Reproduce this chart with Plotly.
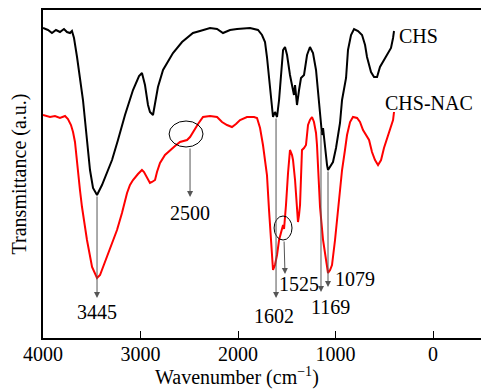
import plotly.graph_objects as go

# ---- data (wavenumber cm^-1, transmittance a.u.) ----
chs_wn = [4000, 3949, 3908, 3867, 3826, 3785, 3754, 3723, 3703, 3682, 3651, 3621, 3590, 3549, 3518, 3487,
          3446, 3395, 3344, 3292, 3231, 3159, 3077, 3015, 2985, 2954, 2923, 2903, 2872, 2841, 2821, 2769,
          2728, 2667, 2574, 2523, 2462, 2390, 2287, 2215, 2154, 2082, 2010, 1877, 1795, 1754, 1723, 1703,
          1672, 1651, 1641, 1621, 1600, 1579, 1559, 1538, 1518, 1497, 1467, 1446, 1426, 1415, 1395, 1374,
          1354, 1323, 1292, 1262, 1231, 1200, 1179, 1159, 1138, 1128, 1108, 1087, 1077, 1056, 1026, 995,
          974, 954, 933, 903, 892, 872, 841, 810, 769, 728, 697, 677, 656, 636, 605, 574, 544, 503, 462,
          431, 410, 400]
chs_t = [310, 308, 305, 308, 306, 309, 306, 305, 307, 300, 281, 258, 238, 198, 168, 150,
         143, 153, 165, 178, 198, 223, 248, 262, 265, 253, 233, 226, 223, 240, 251, 268,
         275, 285, 296, 300, 305, 307, 310, 309, 305, 308, 309, 310, 308, 303, 296, 281,
         248, 228, 221, 226, 221, 238, 263, 288, 291, 283, 263, 251, 243, 253, 233, 248,
         260, 263, 283, 291, 285, 268, 243, 223, 203, 210, 188, 173, 168, 171, 176, 190,
         203, 215, 238, 255, 260, 288, 303, 309, 307, 303, 293, 281, 273, 266, 261, 261, 271, 278, 285,
         290, 300, 307]

nac_wn = [4000, 3928, 3877, 3826, 3774, 3744, 3713, 3692, 3672, 3651, 3621, 3600, 3549, 3497, 3446, 3415,
          3385, 3313, 3262, 3241, 3190, 3138, 3108, 3077, 3026, 2985, 2964, 2933, 2903, 2882, 2851, 2831,
          2800, 2749, 2697, 2646, 2595, 2523, 2492, 2462, 2410, 2359, 2287, 2215, 2164, 2113, 2062, 2021,
          1979, 1908, 1836, 1805, 1774, 1744, 1723, 1703, 1682, 1662, 1641, 1621, 1600, 1579, 1559, 1538,
          1528, 1518, 1508, 1487, 1477, 1467, 1446, 1436, 1415, 1395, 1385, 1374, 1364, 1344, 1323, 1303,
          1282, 1262, 1241, 1221, 1200, 1190, 1179, 1159, 1128, 1097, 1077, 1056, 1036, 1005, 974, 954,
          933, 903, 882, 851, 821, 779, 749, 718, 687, 656, 626, 595, 564, 533, 503, 472, 441, 410, 400]
nac_t = [223, 221, 222, 220, 222, 219, 213, 206, 196, 173, 148, 131, 98, 71, 60, 63,
         71, 91, 103, 108, 125, 145, 153, 158, 164, 168, 166, 160, 155, 156, 158, 166,
         175, 183, 188, 192, 196, 198, 201, 206, 214, 221, 222, 221, 216, 213, 211, 214,
         218, 221, 221, 220, 210, 193, 178, 163, 128, 93, 68, 73, 83, 98, 106, 113,
         109, 118, 133, 165, 183, 188, 183, 178, 158, 128, 116, 123, 133, 188, 190, 193,
         213, 218, 221, 216, 205, 193, 165, 131, 98, 76, 65, 68, 73, 98, 131, 153,
         168, 188, 203, 216, 221, 220, 216, 208, 203, 198, 186, 178, 173, 178, 190, 200, 208, 218, 226]

tick_vals = [4000, 3000, 2000, 1000, 0]
tick_text = ["4000", "3000", "2000", "1000", "0"]

# peak annotations: label, label position, arrow tail, arrow head
peak_labels = ["3445", "2500", "1602", "1525", "1169", "1079"]
label_wn = [3446, 2492, 1631, 1374, 1056, 800]
label_t = [26, 125, 22, 54, 31, 59]
tail_wn = [3446, 2492, 1610, 1528, 1149, 1077]
tail_t = [143, 191, 221, 98, 208, 168]
head_wn = [3446, 2492, 1610, 1518, 1149, 1077]
head_t = [40, 141, 40, 64, 46, 51]

# circled regions: centre wn, centre T, half-width wn, half-height T
circ_wn = [2533, 1538]
circ_t = [204, 110]
circ_rw = [174, 92]
circ_rt = [13, 12]

FONT = "Liberation Serif"
FS = 20

fig = go.Figure()
fig.add_trace(go.Scatter(x=chs_wn, y=chs_t, mode="lines", name="CHS",
                         line=dict(color="black", width=2), showlegend=False))
fig.add_trace(go.Scatter(x=nac_wn, y=nac_t, mode="lines", name="CHS-NAC",
                         line=dict(color="#ff0000", width=2), showlegend=False))

annotations = []
for lab, lx, ly, tx, ty, hx, hy in zip(peak_labels, label_wn, label_t, tail_wn, tail_t, head_wn, head_t):
    annotations.append(dict(x=hx, y=hy, ax=tx, ay=ty, xref="x", yref="y", axref="x", ayref="y",
                            text="", showarrow=True, arrowhead=2, arrowsize=1.2, arrowwidth=1,
                            arrowcolor="#555555"))
    annotations.append(dict(x=lx, y=ly, xref="x", yref="y", text=lab, showarrow=False,
                            font=dict(family=FONT, size=FS, color="black")))

annotations.append(dict(x=369, y=302, xref="x", yref="y", text="CHS", showarrow=False, xanchor="left",
                        font=dict(family=FONT, size=FS, color="black")))
annotations.append(dict(x=41, y=235, xref="x", yref="y", text="CHS-NAC", showarrow=False,
                        font=dict(family=FONT, size=FS, color="black")))
# x-axis title (offset left of the plot centre, as in the original)
annotations.append(dict(x=0.443, y=-0.118, xref="paper", yref="paper", xanchor="center", yanchor="middle",
                        text="Wavenumber (cm<sup>\u22121</sup>)", showarrow=False,
                        font=dict(family=FONT, size=FS, color="black")))

shapes = []
for cx, cy, rw, rt in zip(circ_wn, circ_t, circ_rw, circ_rt):
    shapes.append(dict(type="circle", xref="x", yref="y", x0=cx - rw, x1=cx + rw, y0=cy - rt, y1=cy + rt,
                       line=dict(color="black", width=1)))

fig.update_layout(
    width=481, height=390,
    margin=dict(l=43, r=0, t=10, b=52),
    paper_bgcolor="white", plot_bgcolor="white",
    font=dict(family=FONT, size=FS, color="black"),
    annotations=annotations, shapes=shapes,
    xaxis=dict(range=[4000, -492], tickvals=tick_vals, ticktext=tick_text,
               ticks="inside", ticklen=7, tickwidth=1, tickcolor="black",
               ticklabelstandoff=-3,
               showline=True, linecolor="black", linewidth=1.5, mirror=True,
               showgrid=False, zeroline=False,
               tickfont=dict(family=FONT, size=FS)),
    yaxis=dict(range=[0, 328], showticklabels=False, ticks="",
               showline=True, linecolor="black", linewidth=1.5, mirror=False,
               showgrid=False, zeroline=False,
               title=dict(text="Transmittance (a.u.)", standoff=9,
                          font=dict(family=FONT, size=FS))),
)

fig.write_html("out.html")
